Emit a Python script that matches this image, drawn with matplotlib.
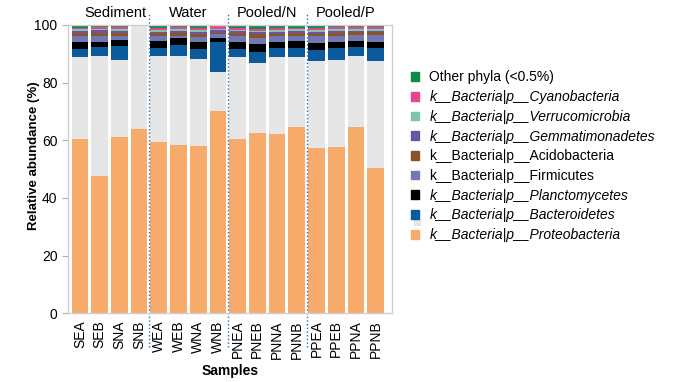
import matplotlib
matplotlib.use("Agg")
import matplotlib.pyplot as plt
from matplotlib.patches import Patch, Rectangle
import numpy as np

plt.rcParams['font.family'] = ['Liberation Sans', 'DejaVu Sans']

# samples and groups
samples = ['SEA', 'SEB', 'SNA', 'SNB', 'WEA', 'WEB', 'WNA', 'WNB',
           'PNEA', 'PNEB', 'PNNA', 'PNNB', 'PPEA', 'PPEB', 'PPNA', 'PPNB']
groups = ['Sediment', 'Water', 'Pooled/N', 'Pooled/P']
group_pos = [1.8, 5.5, 9.5, 13.5]
group_breaks = [3.5, 7.5, 11.5]

# relative abundance (%) per phylum, bottom to top
proteobacteria = [60.5, 47.7, 61.2, 64.0, 59.5, 58.3, 58.0, 70.0,
                  60.3, 62.5, 62.0, 64.5, 57.3, 57.8, 64.5, 50.5]
unlabelled = [28.3, 41.6, 26.5, 36.0, 29.6, 30.9, 30.2, 13.7,
              28.5, 24.2, 26.8, 24.5, 30.3, 29.9, 24.6, 36.8]
bacteroidetes = [2.7, 2.9, 4.8, 0.0, 2.9, 3.9, 3.5, 10.5,
                 2.9, 3.9, 3.1, 3.0, 3.5, 4.2, 3.1, 4.7]
planctomycetes = [2.5, 2.0, 2.4, 0.0, 2.5, 2.3, 2.5, 1.2,
                  2.3, 2.7, 2.3, 2.3, 2.7, 2.3, 2.3, 2.2]
firmicutes = [2.1, 2.1, 1.4, 0.0, 1.7, 0.9, 1.7, 1.4,
              2.1, 2.3, 1.8, 1.8, 2.2, 1.8, 2.0, 2.3]
acidobacteria = [1.1, 0.9, 0.9, 0.0, 0.9, 1.0, 0.9, 0.5,
                 0.9, 1.2, 0.9, 1.0, 0.9, 1.2, 0.9, 0.9]
gemmatimonadetes = [0.6, 1.0, 0.7, 0.0, 0.5, 0.6, 0.8, 0.8,
                    0.7, 0.6, 0.7, 0.7, 0.6, 0.6, 0.6, 0.6]
verrucomicrobia = [0.6, 0.4, 0.6, 0.0, 0.7, 0.7, 0.6, 0.6,
                   0.6, 0.6, 0.6, 0.6, 0.6, 0.6, 0.6, 0.6]
cyanobacteria = [0.6, 0.6, 0.6, 0.0, 0.5, 0.5, 0.6, 0.8,
                 0.7, 0.6, 0.6, 0.6, 0.9, 0.7, 0.5, 0.5]
other = [1.0, 0.8, 0.9, 0.0, 1.2, 0.9, 1.2, 0.5,
         1.0, 1.4, 1.2, 1.0, 1.0, 0.9, 0.9, 0.9]

series = [
    (proteobacteria, '#f6ab6a', 'k__Bacteria|p__Proteobacteria', True),
    (unlabelled, '#e6e6e6', None, False),
    (bacteroidetes, '#0a5a9c', 'k__Bacteria|p__Bacteroidetes', True),
    (planctomycetes, '#000000', 'k__Bacteria|p__Planctomycetes', True),
    (firmicutes, '#7179b5', 'k__Bacteria|p__Firmicutes', False),
    (acidobacteria, '#8c5327', 'k__Bacteria|p__Acidobacteria', False),
    (gemmatimonadetes, '#6a55a0', 'k__Bacteria|p__Gemmatimonadetes', True),
    (verrucomicrobia, '#7fc4b0', 'k__Bacteria|p__Verrucomicrobia', True),
    (cyanobacteria, '#e8448c', 'k__Bacteria|p__Cyanobacteria', True),
    (other, '#0b8a4c', 'Other phyla (<0.5%)', False),
]

fig = plt.figure(figsize=(6.75, 3.82), dpi=100)
ax = fig.add_axes([0.1007, 0.18, 0.48, 0.755])

x = np.arange(len(samples))
bottom = np.zeros(len(samples))
for vals, col, lab, it in series:
    ax.bar(x, vals, width=0.85, bottom=bottom, color=col, linewidth=0)
    bottom += np.array(vals)

ax.set_xlim(-0.61, 15.83)
ax.set_ylim(0, 100)
ax.set_yticks([0, 20, 40, 60, 80, 100])
ax.set_xticks(x)
ax.set_xticklabels(samples, rotation=90, fontsize=10)
ax.tick_params(axis='y', labelsize=10, color='#b0b0b0', length=4)
ax.tick_params(axis='x', length=0, pad=5)
for sp in ax.spines.values():
    sp.set_color('#cfcfcf')
    sp.set_linewidth(1)

ax.set_ylabel('Relative abundance (%)', fontsize=9.5, fontweight='bold')
ax.yaxis.set_label_coords(-0.085, 0.548)
ax.set_xlabel('Samples', fontsize=10, fontweight='bold', labelpad=4)

# group separators and names
trans = matplotlib.transforms.blended_transform_factory(ax.transData, ax.transAxes)
for b in group_breaks:
    ax.plot([b, b], [-0.117, 1.039], transform=trans, color='#2a6db5',
            linestyle=':', linewidth=1, clip_on=False)
for g, p in zip(groups, group_pos):
    ax.text(p, 1.042, g, transform=trans, ha='center', va='center', fontsize=10.5)

# legend, top entry first
handles = []
labels = []
styles = []
for vals, col, lab, it in reversed(series):
    if lab is None:
        continue
    handles.append(Patch(color=col))
    labels.append(lab)
    styles.append(it)
leg = fig.legend(handles, labels, loc='upper left', bbox_to_anchor=(0.6, 0.83),
                 frameon=False, fontsize=10, handlelength=0.6, handleheight=0.6,
                 handletextpad=0.75, labelspacing=0.41, borderaxespad=0)
for t, it in zip(leg.get_texts(), styles):
    if it:
        t.set_style('italic')

# stray grey legend square
fig.patches.append(Rectangle((414 / 675, 1 - 225 / 382), 6 / 675, 6 / 382,
                             transform=fig.transFigure, color='#e6e6e6'))

fig.savefig('out.png', dpi=100)
